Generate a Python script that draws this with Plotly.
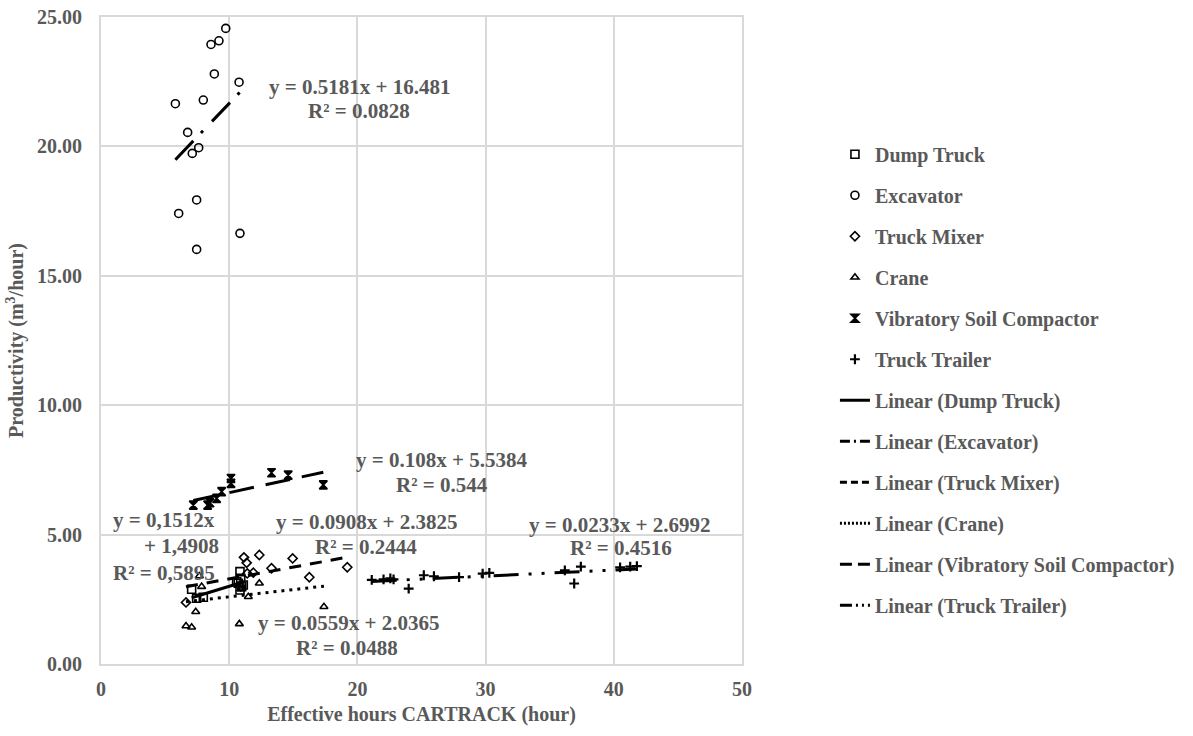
import plotly.graph_objects as go

# ---------------- data ----------------
dump_x = [7.07, 7.46, 7.98, 10.84, 10.90, 10.71, 10.97, 10.84, 10.58, 11.10]
dump_y = [2.89, 2.54, 2.58, 3.57, 3.31, 3.12, 2.99, 2.86, 3.18, 3.05]

exc_x = [9.73, 9.20, 8.58, 8.84, 10.77, 5.80, 7.98, 6.76, 7.62, 7.12, 7.46, 6.06, 7.46, 10.84]
exc_y = [24.56, 24.08, 23.94, 22.80, 22.48, 21.65, 21.79, 20.54, 19.95, 19.73, 17.93, 17.41, 16.02, 16.64]

mix_x = [6.63, 11.15, 11.36, 12.35, 11.41, 11.88, 13.30, 14.95, 16.25, 19.21, 10.90]
mix_y = [2.38, 4.12, 3.91, 4.21, 3.50, 3.53, 3.70, 4.08, 3.35, 3.74, 3.00]

crane_x = [7.67, 7.85, 7.39, 6.63, 7.07, 10.79, 11.49, 12.35, 17.39, 10.90]
crane_y = [3.40, 2.99, 2.02, 1.47, 1.42, 1.55, 2.60, 3.12, 2.21, 2.90]

vib_x = [7.20, 8.32, 8.50, 9.02, 9.41, 10.14, 10.14, 13.30, 14.60, 17.34]
vib_y = [6.14, 6.14, 6.23, 6.40, 6.66, 6.98, 7.17, 7.39, 7.30, 6.92]

trl_x = [21.12, 22.04, 22.57, 22.82, 24.00, 25.18, 25.97, 27.93, 29.77, 30.29,
         36.18, 36.91, 37.43, 40.49, 41.28, 41.80]
trl_y = [3.25, 3.27, 3.31, 3.27, 2.91, 3.43, 3.39, 3.36, 3.49, 3.52,
         3.62, 3.11, 3.76, 3.73, 3.76, 3.78]

series_names = ["Dump Truck", "Excavator", "Truck Mixer", "Crane",
                "Vibratory Soil Compactor", "Truck Trailer"]
series_x = [dump_x, exc_x, mix_x, crane_x, vib_x, trl_x]
series_y = [dump_y, exc_y, mix_y, crane_y, vib_y, trl_y]

# trendline coefficients (slope, intercept) as printed on the chart
slopes = [0.1512, 0.5181, 0.0908, 0.0559, 0.108, 0.0233]
intercepts = [1.4908, 16.481, 2.3825, 2.0365, 5.5384, 2.6992]

eq_texts = [
    ["y = 0,1512x", "+ 1,4908", "R² = 0,5895"],
    ["y = 0.5181x + 16.481", "R² = 0.0828"],
    ["y = 0.0908x + 2.3825", "R² = 0.2444"],
    ["y = 0.0559x + 2.0365", "R² = 0.0488"],
    ["y = 0.108x + 5.5384", "R² = 0.544"],
    ["y = 0.0233x + 2.6992", "R² = 0.4516"],
]

x_ticks = [0, 10, 20, 30, 40, 50]
y_ticks = [0, 5, 10, 15, 20, 25]

# ---------------- styling ----------------
FONT = "Liberation Serif"
GREY = "#595959"
GRID = "#d9d9d9"

symbols = ["square-open", "circle-open", "diamond-open", "triangle-up-open",
           "hourglass", "cross-thin-open"]
msizes = [8, 8, 7, 7, 8, 7]
mlw = [1.6, 1.6, 1.6, 1.6, 1.6, 2.2]
dashes = ["solid", "26px,11px,3px,13px", "12px,9px", "3px,5px",
          "25px,12px", "25px,10px,3px,10px,3px,10px"]
legend_dashes = ["solid", "10px,4px,2px,4px", "7px,4px", "2px,2px",
                 "12px,6px", "12px,4px,2px,4px,2px,4px"]

# label placement (pixel centers of the reference, converted to data units)
def px2x(p):
    return (p - 101) / 12.82

def px2y(p):
    return (664 - p) / 25.88

label_pos = [
    [(163.7, 520), (181.5, 546), (163.5, 573)],
    [(359, 87), (359, 111)],
    [(366.5, 522), (365.5, 547)],
    [(348, 623), (347, 648)],
    [(441.5, 460), (441.5, 485)],
    [(619, 525), (621, 548)],
]

fig = go.Figure()

for i, name in enumerate(series_names):
    fig.add_trace(go.Scatter(
        x=series_x[i], y=series_y[i], mode="markers", name=name,
        legendgroup="m%d" % i,
        marker=dict(symbol=symbols[i], size=msizes[i], color="black",
                    line=dict(color="black", width=mlw[i])),
        cliponaxis=False,
    ))

for i, name in enumerate(series_names):
    xs = series_x[i]
    x0, x1 = min(xs), max(xs)
    fig.add_trace(go.Scatter(
        x=[x0, x1], y=[slopes[i] * x0 + intercepts[i], slopes[i] * x1 + intercepts[i]],
        mode="lines", name="Linear (%s)" % name, legendgroup="l%d" % i,
        showlegend=False,
        line=dict(color="black", width=3, dash=dashes[i]),
    ))
    # legend entry with a pattern scaled to the short legend sample
    fig.add_trace(go.Scatter(
        x=[None], y=[None], mode="lines", name="Linear (%s)" % name,
        legendgroup="l%d" % i, showlegend=True,
        line=dict(color="black", width=3, dash=legend_dashes[i]),
    ))

annotations = []
for i, lines in enumerate(eq_texts):
    for j, t in enumerate(lines):
        px, py = label_pos[i][j]
        annotations.append(dict(
            x=px2x(px), y=px2y(py), xref="x", yref="y", text=t, showarrow=False,
            xanchor="center", yanchor="middle",
            font=dict(family=FONT, size=21, color=GREY, weight="bold"),
        ))

fig.update_layout(
    width=1193, height=736,
    margin=dict(l=101, r=451, t=17, b=72, autoexpand=False),
    paper_bgcolor="white", plot_bgcolor="white",
    font=dict(family=FONT, color=GREY, size=20, weight="bold"),
    annotations=annotations,
    legend=dict(
        x=1.145, y=0.818, xanchor="left", yanchor="top",
        traceorder="grouped", tracegroupgap=12,
        font=dict(family=FONT, size=20, color=GREY, weight="bold"),
        bgcolor="rgba(0,0,0,0)",
    ),
    xaxis=dict(
        range=[0, 50], tickvals=x_ticks, ticktext=[str(v) for v in x_ticks],
        showgrid=True, gridcolor=GRID, gridwidth=2,
        showline=True, linecolor=GRID, linewidth=2, mirror=True,
        zeroline=False, ticks="", ticklabelstandoff=6, automargin=False,
        ticklabeloverflow="allow",
        tickfont=dict(family=FONT, size=20, color=GREY, weight="bold"),
        title=dict(text="Effective hours CARTRACK (hour)", standoff=8,
                   font=dict(family=FONT, size=20, color=GREY, weight="bold")),
    ),
    yaxis=dict(
        range=[0, 25], tickvals=y_ticks, ticktext=["%.2f" % v for v in y_ticks],
        showgrid=True, gridcolor=GRID, gridwidth=2,
        showline=True, linecolor=GRID, linewidth=2, mirror=True,
        zeroline=False, ticks="", ticklabelstandoff=13, automargin=False,
        ticklabeloverflow="allow",
        tickfont=dict(family=FONT, size=20, color=GREY, weight="bold"),
        title=dict(text="Productivity (m<sup>3</sup>/hour)", standoff=8,
                   font=dict(family=FONT, size=20, color=GREY, weight="bold")),
    ),
)

fig.write_html("out.html", config={"displayModeBar": False},
               post_script="document.body.style.margin='0';")
